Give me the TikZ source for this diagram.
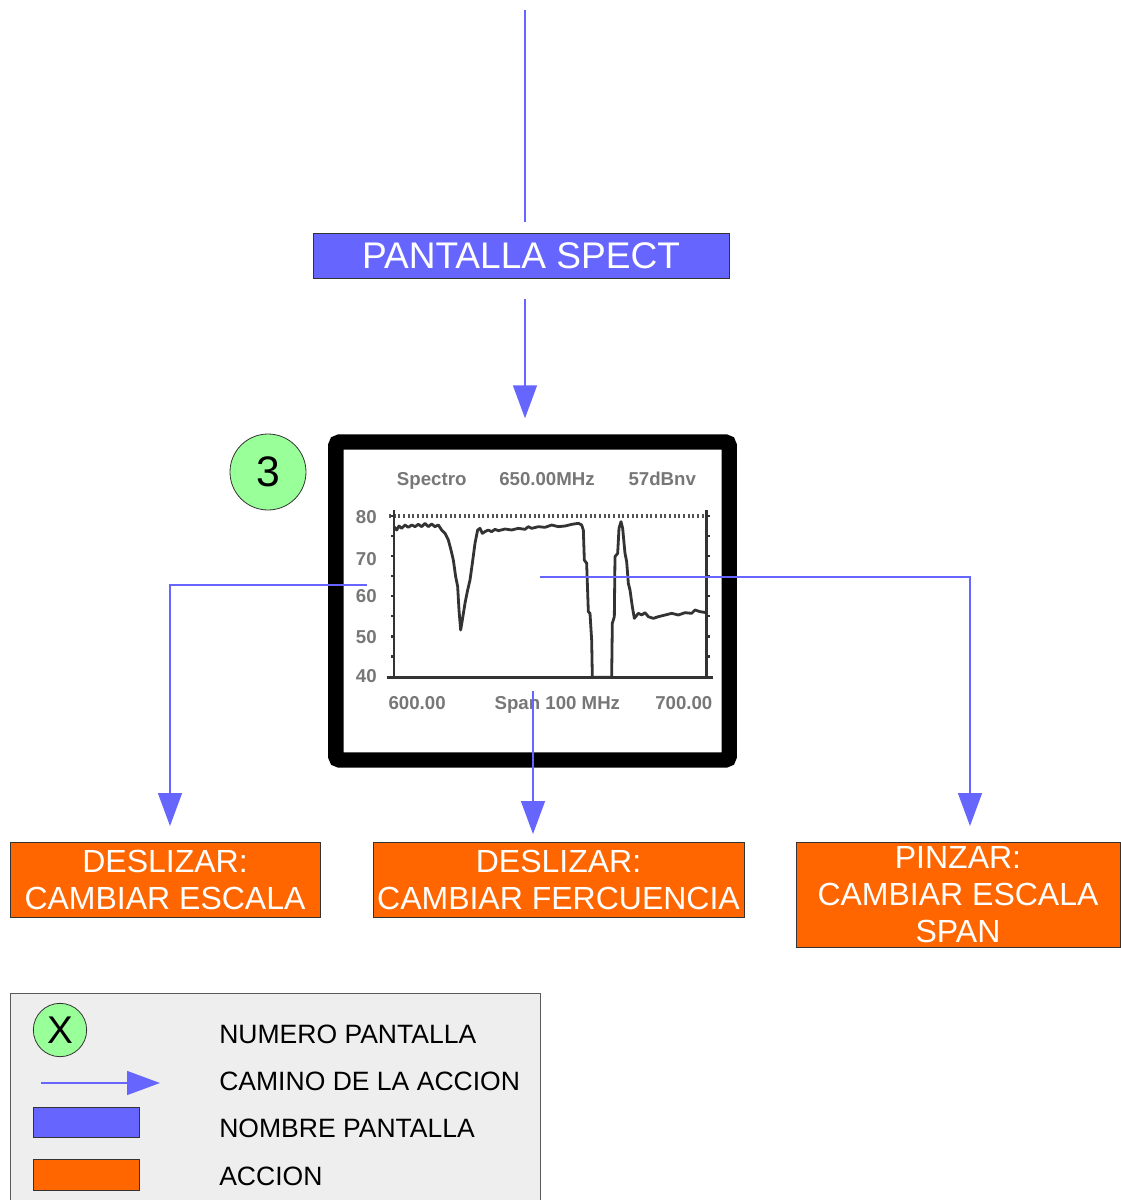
\documentclass[tikz,border=0pt]{standalone}
\usepackage{fontspec}
\setmainfont{Liberation Sans}
\usetikzlibrary{arrows.meta,calc}
\definecolor{scrblue}{HTML}{6666FF}
\definecolor{actorange}{HTML}{FF6600}
\definecolor{numgreen}{HTML}{99FF99}
\definecolor{legendgray}{HTML}{EEEEEE}
\definecolor{plotgray}{HTML}{777777}
\definecolor{traceink}{HTML}{333333}
\definecolor{edgeink}{HTML}{333333}

\begin{document}
\begin{tikzpicture}[x=0.75pt,y=-0.75pt,
  link/.style={draw=scrblue, line width=1.1pt},
  conn/.style={link, -{Triangle[length=24.75pt,width=18pt]}},
  screenname/.style={draw=edgeink, line width=0.75pt, fill=scrblue, text=white,
    font=\fontsize{27.8}{31}\selectfont, inner sep=0pt},
  action/.style={draw=edgeink, line width=0.75pt, fill=actorange, text=white,
    align=center, font=\fontsize{24}{27.75}\selectfont, inner sep=0pt},
  numcircle/.style={circle, draw=edgeink, line width=0.6pt, fill=numgreen,
    inner sep=0pt},
  plotlabel/.style={text=plotgray, font=\fontsize{14}{16}\selectfont\bfseries,
    inner sep=0pt},
  legendtext/.style={anchor=base west, inner sep=0pt,
    font=\fontsize{19.9}{22}\selectfont},
  axis/.style={draw=traceink, line width=2.2pt},
]
\useasboundingbox (0,0) rectangle (1121,1200);

% ---------- screen name and incoming path ----------
\coordinate (top) at (525,10);
\node[screenname, minimum width=312pt, minimum height=33.75pt] (pantalla) at (521,255.5) {PANTALLA SPECT};
\draw[link, shorten >=8.25pt] (top) -- (top |- pantalla.north);

% ---------- spectrum screen ----------
\node[draw=black, line width=11.6pt, fill=white, rounded corners=3pt,
      minimum width=295.1pt, minimum height=238.5pt, inner sep=0pt] (screen) at (532.5,601) {};
\draw[conn, shorten <=15pt, shorten >=12pt] (top |- pantalla.south) -- (top |- screen.north);

\node[numcircle, minimum size=57pt, font=\fontsize{32}{34}\selectfont] (n3) at (268,472) {3};

% header and axis labels of the analyser
\node[plotlabel, anchor=base west] (hspec) at (396.7,485) {Spectro};
\node[plotlabel, anchor=base west] (hfreq) at (499,485) {650.00MHz};
\node[plotlabel, anchor=base west] (hlev) at (628.3,485) {57dBnv};
\node[plotlabel, anchor=base east] (y80) at (377,523.3) {80};
\node[plotlabel, anchor=base east] (y70) at (377,565) {70};
\node[plotlabel, anchor=base east] (y60) at (377,602.7) {60};
\node[plotlabel, anchor=base east] (y50) at (377,643.3) {50};
\node[plotlabel, anchor=base east] (y40) at (377,682.3) {40};
\node[plotlabel, anchor=base west] (xlo) at (388.3,709.4) {600.00};
\node[plotlabel, anchor=base west] (xspan) at (494.3,709.4) {Span 100 MHz};
\node[plotlabel, anchor=base west] (xhi) at (655,709.4) {700.00};

\begin{scope}[shift={(325,430)}, scale=1/3]
  % reference level
  \draw[draw=traceink!85, line width=2.3pt, dash pattern=on 1.6pt off 1.9pt] (192,258) -- (1145,258);
  % frame
  \draw[axis] (207,240) -- (207,745);
  \draw[axis] (1145,240) -- (1145,745);
  \draw[axis] (185,742) -- (1165,742);
  \foreach \t in {258,318,378,438,498,558,620,680} {
    \draw[axis, line width=2pt] (207,\t) -- (198,\t);
    \draw[axis, line width=2pt] (1145,\t) -- (1155,\t);
  }
  % measured trace
  \draw[draw=traceink, line width=2.1pt, line join=round]
    (207,290) -- (215,300) -- (222,288) -- (230,295) -- (240,285) -- (250,292)
    -- (260,285) -- (270,290) -- (280,283) -- (290,290) -- (300,280) -- (310,290)
    -- (320,282) -- (330,290) -- (340,285) -- (350,300) -- (360,310) -- (370,330)
    -- (378,360) -- (385,390) -- (392,440) -- (398,470) -- (402,540) -- (407,600)
    -- (412,570) -- (420,520) -- (428,480) -- (435,450) -- (442,400) -- (450,340)
    -- (458,300) -- (465,295) -- (472,310) -- (480,305) -- (490,300) -- (500,305)
    -- (510,298) -- (520,302) -- (540,297) -- (560,300) -- (580,295) -- (600,298)
    -- (610,290) -- (620,295) -- (640,290) -- (660,292) -- (680,285) -- (700,290)
    -- (720,288) -- (740,283) -- (760,280) -- (770,285) -- (775,300) -- (778,390)
    -- (785,400) -- (790,545) -- (795,550) -- (800,630) -- (802,742) -- (860,742)
    -- (862,580) -- (868,560) -- (870,380) -- (878,370) -- (882,295) -- (888,275)
    -- (893,295) -- (900,370) -- (905,395) -- (910,460) -- (915,480) -- (922,530)
    -- (928,565) -- (940,550) -- (950,555) -- (960,548) -- (970,560) -- (985,565)
    -- (1000,560) -- (1020,555) -- (1040,550) -- (1060,555) -- (1080,548)
    -- (1100,550) -- (1110,540) -- (1125,545) -- (1145,548);
\end{scope}

% ---------- actions ----------
\node[action, minimum width=232.5pt, minimum height=56.25pt] (a1) at (165,879.5)
  {DESLIZAR:\\CAMBIAR ESCALA};
\node[action, minimum width=278.25pt, minimum height=56.25pt] (a2) at (558.5,879.5)
  {DESLIZAR:\\CAMBIAR FERCUENCIA};
\node[action, minimum width=243pt, minimum height=78.75pt] (a3) at (958,894.5)
  {PINZAR:\\CAMBIAR ESCALA\\SPAN};

\coordinate (sl) at (367,585);
\coordinate (sm) at (533,691);
\coordinate (sr) at (540,577);
\coordinate (t1) at (170,826);
\coordinate (t2) at (533,834);
\coordinate (t3) at (970,826);
\draw[conn] (sl) -| (t1);
\draw[conn] (sm) -- (t2);
\draw[conn] (sr) -| (t3);

% ---------- legend ----------
\fill[legendgray] (10,993) rectangle (540,1210);
\draw[draw=black!65, line width=0.75pt] (10,1210) -- (10,993) -- (540,993) -- (540,1210);

\node[numcircle, minimum size=40pt, font=\fontsize{29}{31}\selectfont] (lx) at (60,1030) {X};
\coordinate (la1) at (41,1083);
\coordinate (la2) at (160,1083);
\draw[conn] (la1) -- (la2);
\node[draw=edgeink, line width=0.75pt, fill=scrblue, minimum width=79.5pt, minimum height=22.5pt,
      inner sep=0pt] (lblue) at (86,1122) {};
\node[draw=edgeink, line width=0.75pt, fill=actorange, minimum width=79.5pt, minimum height=23.25pt,
      inner sep=0pt] (lorange) at (86,1174.5) {};

\node[legendtext] (l1) at (219,1043.5) {NUMERO PANTALLA};
\node[legendtext] (l2) at (219,1090) {CAMINO DE LA ACCION};
\node[legendtext] (l3) at (219,1137) {NOMBRE PANTALLA};
\node[legendtext] (l4) at (219,1185) {ACCION};
\end{tikzpicture}
\end{document}
